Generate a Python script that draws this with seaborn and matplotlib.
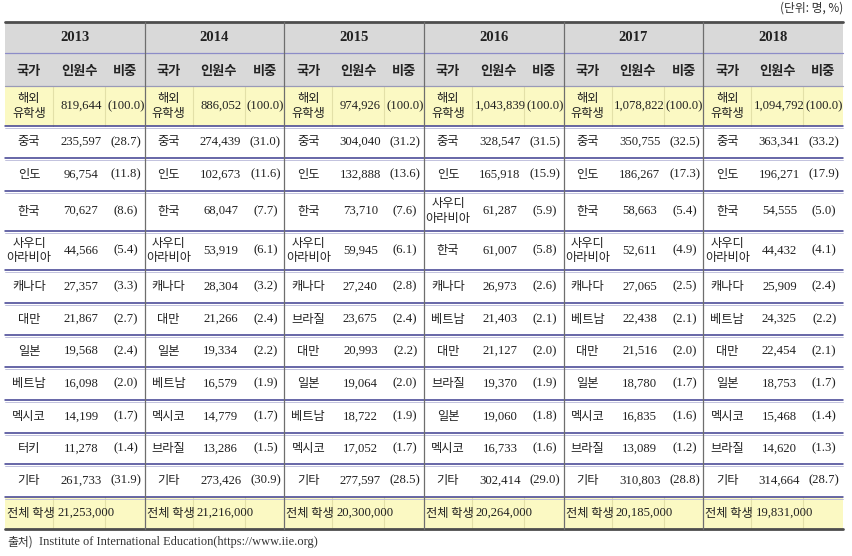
import matplotlib
matplotlib.use("Agg")
import matplotlib.pyplot as plt
from matplotlib.patches import Rectangle
import seaborn as sns

years = [2013, 2014, 2015, 2016, 2017, 2018]

countries_2013 = ["중국", "인도", "한국", "사우디 아라비아", "캐나다", "대만", "일본", "베트남", "멕시코", "터키", "기타"]
counts_2013 = [235597, 96754, 70627, 44566, 27357, 21867, 19568, 16098, 14199, 11278, 261733]
shares_2013 = [28.7, 11.8, 8.6, 5.4, 3.3, 2.7, 2.4, 2.0, 1.7, 1.4, 31.9]

countries_2014 = ["중국", "인도", "한국", "사우디 아라비아", "캐나다", "대만", "일본", "베트남", "멕시코", "브라질", "기타"]
counts_2014 = [274439, 102673, 68047, 53919, 28304, 21266, 19334, 16579, 14779, 13286, 273426]
shares_2014 = [31.0, 11.6, 7.7, 6.1, 3.2, 2.4, 2.2, 1.9, 1.7, 1.5, 30.9]

countries_2015 = ["중국", "인도", "한국", "사우디 아라비아", "캐나다", "브라질", "대만", "일본", "베트남", "멕시코", "기타"]
counts_2015 = [304040, 132888, 73710, 59945, 27240, 23675, 20993, 19064, 18722, 17052, 277597]
shares_2015 = [31.2, 13.6, 7.6, 6.1, 2.8, 2.4, 2.2, 2.0, 1.9, 1.7, 28.5]

countries_2016 = ["중국", "인도", "사우디 아라비아", "한국", "캐나다", "베트남", "대만", "브라질", "일본", "멕시코", "기타"]
counts_2016 = [328547, 165918, 61287, 61007, 26973, 21403, 21127, 19370, 19060, 16733, 302414]
shares_2016 = [31.5, 15.9, 5.9, 5.8, 2.6, 2.1, 2.0, 1.9, 1.8, 1.6, 29.0]

countries_2017 = ["중국", "인도", "한국", "사우디 아라비아", "캐나다", "베트남", "대만", "일본", "멕시코", "브라질", "기타"]
counts_2017 = [350755, 186267, 58663, 52611, 27065, 22438, 21516, 18780, 16835, 13089, 310803]
shares_2017 = [32.5, 17.3, 5.4, 4.9, 2.5, 2.1, 2.0, 1.7, 1.6, 1.2, 28.8]

countries_2018 = ["중국", "인도", "한국", "사우디 아라비아", "캐나다", "베트남", "대만", "일본", "멕시코", "브라질", "기타"]
counts_2018 = [363341, 196271, 54555, 44432, 25909, 24325, 22454, 18753, 15468, 14620, 314664]
shares_2018 = [33.2, 17.9, 5.0, 4.1, 2.4, 2.2, 2.1, 1.7, 1.4, 1.3, 28.7]

abroad_total = [819644, 886052, 974926, 1043839, 1078822, 1094792]
all_students = [21253000, 21216000, 20300000, 20264000, 20185000, 19831000]

sub_headers = ["국가", "인원수", "비중"]

countries = [countries_2013, countries_2014, countries_2015, countries_2016, countries_2017, countries_2018]
counts = [counts_2013, counts_2014, counts_2015, counts_2016, counts_2017, counts_2018]
shares = [shares_2013, shares_2014, shares_2015, shares_2016, shares_2017, shares_2018]

sns.set_theme(style="white")
plt.rcParams['font.family'] = ['Liberation Serif', 'Noto Sans CJK KR', 'DejaVu Sans']
KR = ['Noto Sans CJK KR']
NUM = ['Liberation Serif']

# layout (pixels)
left, right = 5, 843
gw = (right - left) / len(years)
sub_off = [0, 48, 100, gw]
top = 22
head_h = [31, 33]
row_h = [40, 32, 33, 40, 39, 33, 32, 32, 33, 33, 31, 33, 32]

HEAD_BG = "#d9d9d9"
YEL_BG = "#fbf9c3"
NAVY = "#3d3d8f"

fig = plt.figure(figsize=(8.52, 5.56), dpi=100)
ax = fig.add_axes([0, 0, 1, 1])
ax.set_xlim(0, 852)
ax.set_ylim(556, 0)
ax.axis("off")

# row edges
edges = [top, top + head_h[0], top + head_h[0] + head_h[1]]
for h in row_h:
    edges.append(edges[-1] + h)
bottom = edges[-1]

# backgrounds
ax.add_patch(Rectangle((left, edges[0]), right - left, edges[2] - edges[0], color=HEAD_BG, lw=0))
ax.add_patch(Rectangle((left, edges[2]), right - left, edges[3] - edges[2], color=YEL_BG, lw=0))
ax.add_patch(Rectangle((left, edges[-2]), right - left, edges[-1] - edges[-2], color=YEL_BG, lw=0))

fs = 9.2

def cell_text(x, y, s, **kw):
    ax.text(x, y, s, ha=kw.pop("ha", "center"), va="center", fontsize=kw.pop("fontsize", fs),
            color=kw.pop("color", "#222222"), **kw)

def name_text(x, y, s):
    # two-word names are stacked on two lines, each centred
    parts = s.split(" ") if len(s) > 4 else [s]
    if len(parts) == 1:
        cell_text(x, y, s, family=KR, fontsize=8.8)
    else:
        cell_text(x, y - 7.5, parts[0], family=KR, fontsize=8.8)
        cell_text(x, y + 7.5, parts[1], family=KR, fontsize=8.8)

for g, yr in enumerate(years):
    gx = left + g * gw
    # year header
    cell_text(gx + gw / 2, (edges[0] + edges[1]) / 2, str(yr), fontsize=10.5, fontweight="bold", family=NUM)
    # sub headers
    for k, name in enumerate(sub_headers):
        cx = gx + (sub_off[k] + sub_off[k + 1]) / 2
        cell_text(cx, (edges[1] + edges[2]) / 2 + 1, name, fontsize=9.5, fontweight="bold", family=KR)
    c_name = gx + (sub_off[0] + sub_off[1]) / 2
    c_num = gx + (sub_off[1] + sub_off[2]) / 2 + 2
    c_share = gx + (sub_off[2] + sub_off[3]) / 2 + 1
    # overseas total row
    ym = (edges[2] + edges[3]) / 2
    name_text(c_name, ym, "해외 유학생")
    cell_text(c_num, ym, f"{abroad_total[g]:,}", family=NUM)
    cell_text(c_share, ym, "(100.0)", family=NUM)
    # country rows
    for r in range(len(countries[g])):
        ym = (edges[3 + r] + edges[4 + r]) / 2
        name_text(c_name, ym, countries[g][r])
        cell_text(c_num, ym, f"{counts[g][r]:,}", family=NUM)
        cell_text(c_share, ym, f"({shares[g][r]:.1f})", family=NUM)
    # all students row
    ym = (edges[-2] + edges[-1]) / 2
    cell_text(gx + 2, ym, "전체 학생", ha="left", family=KR, fontsize=8.8)
    cell_text(gx + 52, ym, f"{all_students[g]:,}", ha="left", family=NUM)
    # faint inner column lines in yellow rows
    for k in (1, 2):
        for a, b in ((edges[2], edges[3]), (edges[-2], edges[-1])):
            ax.plot([gx + sub_off[k]] * 2, [a, b], color="#e3e0a8", lw=0.8)

# horizontal lines
ax.plot([left, right], [edges[1], edges[1]], color="#8c8cc8", lw=0.9)
ax.plot([left, right], [edges[2], edges[2]], color="#9a9ab8", lw=0.9)
for e in edges[3:-1]:
    ax.plot([left, right], [e, e], color=NAVY, lw=1.1)
    ax.plot([left, right], [e + 1.5, e + 1.5], color="#b8b8d8", lw=0.6)
ax.plot([left, right], [top, top], color="#4d4d4d", lw=2.0)
ax.plot([left, right], [bottom, bottom], color="#4d4d4d", lw=2.0)

# vertical group separators
for g in range(1, len(years)):
    x = left + g * gw
    ax.plot([x, x], [top, bottom], color="#6e6e6e", lw=0.9)

ax.text(right, 8, "(단위: 명, %)", ha="right", va="center", fontsize=8.5, color="#333333", family=KR)
ax.text(left + 2, 542, "출처)", ha="left", va="center", fontsize=8.5, color="#333333", family=KR)
ax.text(left + 34, 542, "Institute of International Education(https://www.iie.org)",
        ha="left", va="center", fontsize=8.9, color="#333333", family=NUM)

fig.savefig("out.png", dpi=100)
